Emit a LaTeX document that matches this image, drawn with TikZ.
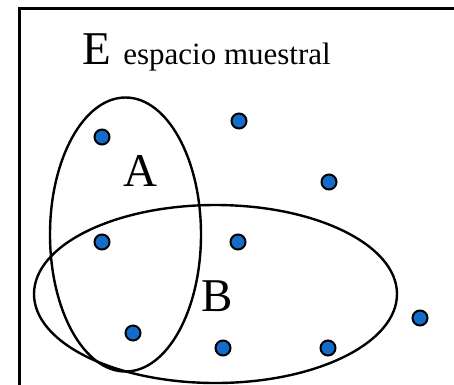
\documentclass[tikz,border=0pt]{standalone}
\usepackage{fontspec}
\setmainfont{Liberation Serif}
\usetikzlibrary{positioning}
\definecolor{dotblue}{RGB}{20,108,200}

\begin{document}
\begin{tikzpicture}[x=1pt, y=-1pt,
    pt/.style={circle, draw, fill=dotblue, line width=2pt, minimum size=15pt, inner sep=0pt},
    big/.style={font=\fontsize{47}{47}\selectfont, inner sep=0pt},
    small/.style={font=\fontsize{31}{31}\selectfont, inner sep=0pt},
    set/.style={line width=2.4pt}]
    \useasboundingbox (0,0) rectangle (454,384);
    \clip (0,0) rectangle (454,384);
    \draw[line width=3pt] (19,8) rectangle (480,400);

    % title
    \node[big, anchor=base west] (e) at (82,64) {E};
    \node[small, anchor=base west] (sm) at ([xshift=12pt]e.base east) {espacio muestral};

    % sets
    \draw[set] (125.5,234.5) ellipse [x radius=75.5pt, y radius=137pt];
    \draw[set] (215.5,294) ellipse [x radius=181.5pt, y radius=89pt];
    \node[big] (a) at (140,171) {A};
    \node[big] (b) at (217,296) {B};

    % points
    \node[pt] (p1) at (102,137) {};
    \node[pt] (p2) at (239,121) {};
    \node[pt] (p3) at (329,182) {};
    \node[pt] (p4) at (102,242) {};
    \node[pt] (p5) at (238,242) {};
    \node[pt] (p6) at (133,333) {};
    \node[pt] (p7) at (223,348) {};
    \node[pt] (p8) at (328,348) {};
    \node[pt] (p9) at (420,318) {};
\end{tikzpicture}
\end{document}
